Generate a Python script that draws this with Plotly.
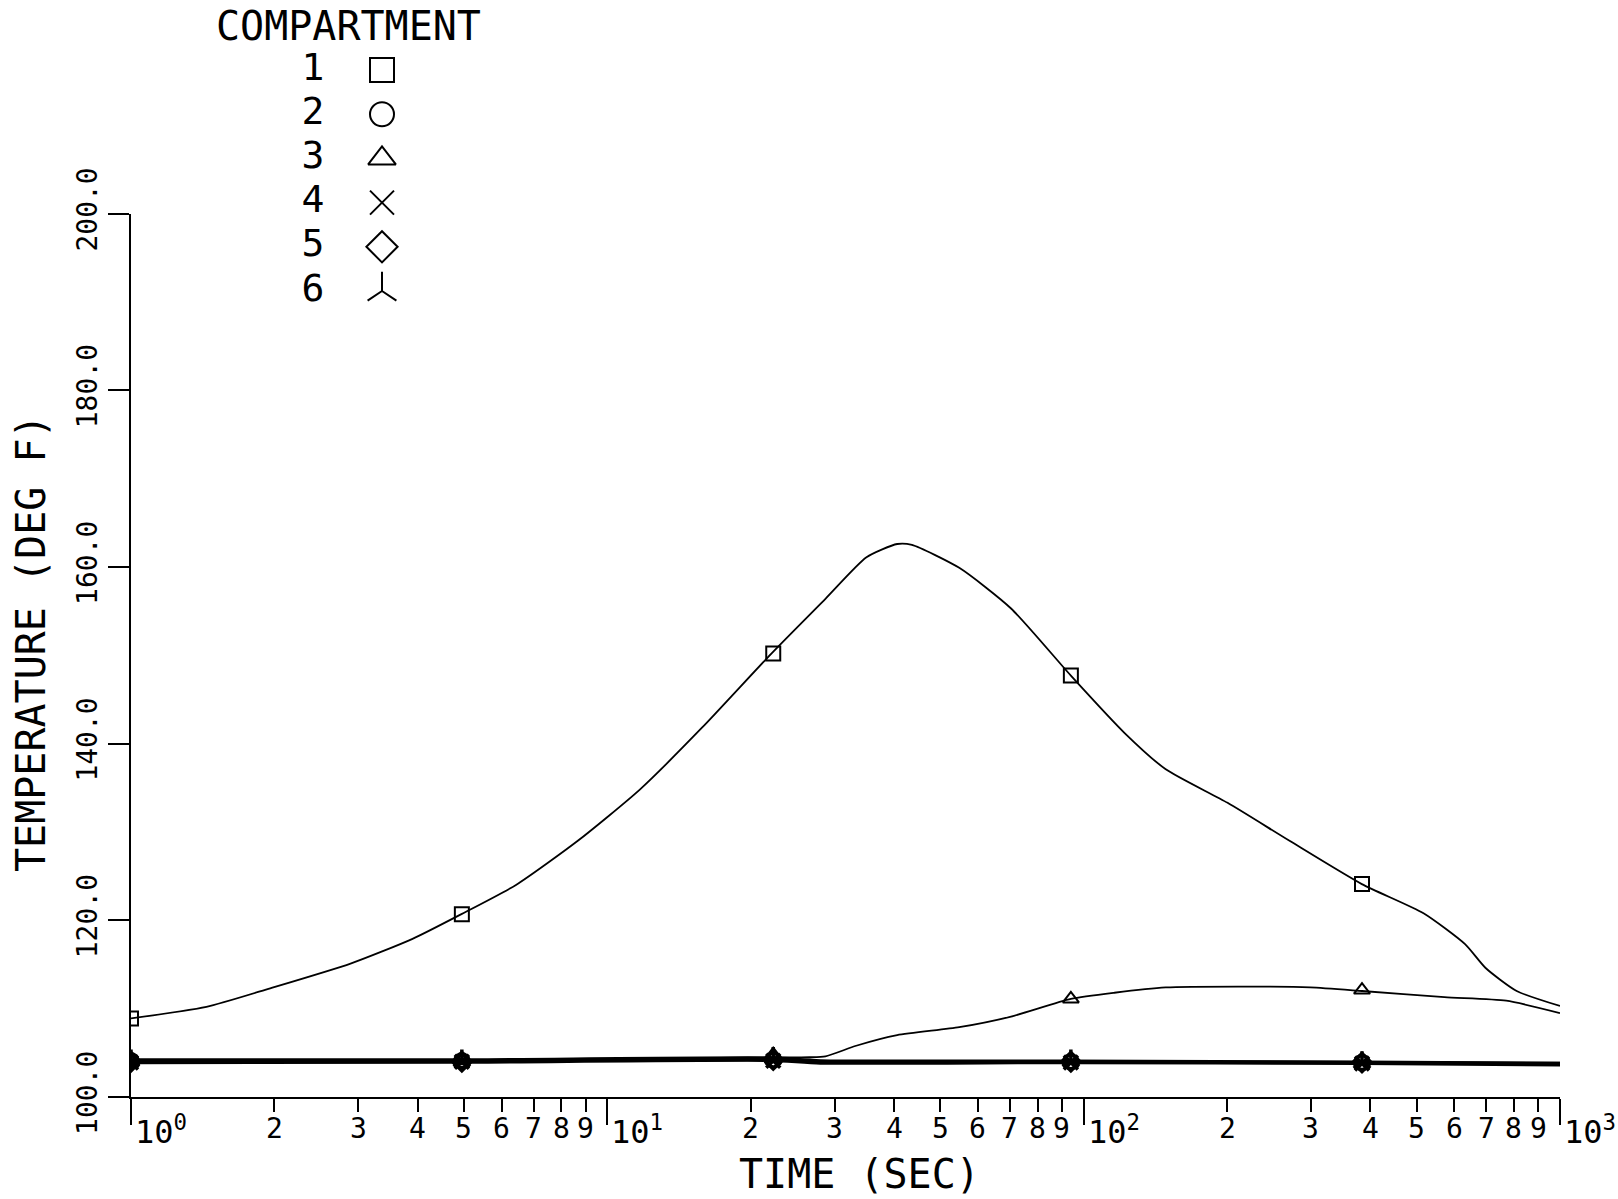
import math
import plotly.graph_objects as go

# ---------------- data ----------------
c1_time = [1.0, 1.44, 1.96, 2.89, 3.90, 4.94, 6.43, 8.67, 11.7, 15.8, 22.1, 28.7, 35.0, 40.6,
           43.6, 54.8, 70.4, 94.0, 121.9, 148.7, 200.5, 270.5, 383.7, 517.0, 632.0, 698.0, 811.0, 1000.0]
c1_temp = [108.9, 110.2, 112.3, 115.1, 117.9, 120.7, 124.0, 129.0, 134.8, 141.8, 150.2, 156.4, 161.1, 162.6,
           162.5, 159.9, 155.3, 147.7, 141.2, 137.1, 133.3, 129.0, 124.1, 120.8, 117.3, 114.6, 112.0, 110.3]

c3_time = [1.0, 4.94, 22.1, 26.6, 28.7, 33.3, 40.6, 54.8, 70.4, 94.0, 116.0, 148.7, 211.0, 299.0,
           384.0, 572.0, 771.0, 1000.0]
c3_temp = [104.0, 104.1, 104.5, 104.5, 104.6, 105.8, 107.0, 107.9, 109.1, 111.1, 111.8, 112.4, 112.5, 112.4,
           112.0, 111.3, 110.9, 109.5]

flat_time = [1.0, 5.0, 22.0, 28.0, 94.0, 384.0, 1000.0]
c2_temp = [104.15, 104.15, 104.35, 104.05, 104.05, 103.95, 103.85]
c4_temp = [103.85, 103.9, 104.1, 103.8, 103.85, 103.75, 103.6]
c5_temp = [104.0, 104.0, 104.2, 103.95, 103.95, 103.85, 103.7]
c6_temp = [104.25, 104.25, 104.45, 104.15, 104.1, 104.0, 103.85]

marker_time = [1.0, 4.95, 22.3, 94.0, 384.0]
c1_mark = [108.9, 120.7, 150.2, 147.7, 124.1]
c2_mark = [104.1, 104.1, 104.2, 104.0, 103.9]
c3_mark = [104.0, 104.1, 104.8, 111.1, 112.1]
c4_mark = [103.9, 104.0, 104.1, 103.9, 103.8]
c5_mark = [104.0, 104.0, 104.2, 104.0, 103.9]
c6_mark = [104.1, 104.1, 104.4, 104.1, 103.9]

compartments = ["1", "2", "3", "4", "5", "6"]
symbols = ["square-open", "circle-open", "triangle-up-open", "x-thin-open", "diamond-open", "y-up-open"]

y_ticks = [100, 120, 140, 160, 180, 200]
y_ticktext = ["100.0", "120.0", "140.0", "160.0", "180.0", "200.0"]
x_decades = [1, 10, 100, 1000]
x_decade_exp = ["0", "1", "2", "3"]
x_minor = [2, 3, 4, 5, 6, 7, 8, 9, 20, 30, 40, 50, 60, 70, 80, 90, 200, 300, 400, 500, 600, 700, 800, 900]
x_minor_text = ["2", "3", "4", "5", "6", "7", "8", "9"] * 3

# ---------------- layout constants ----------------
W, H = 1618, 1199
FONT = "DejaVu Sans Mono"
X_L, X_R = 131, 1560       # pixel position of 10^0 and 10^3
Y_B, Y_T = 1097, 213.6     # pixel position of 100 and 200
LEG_NUM_X, LEG_SYM_X, LEG_Y0, LEG_DY = 313, 382, 70, 44.2

fig = go.Figure()

curves = [
    (c1_time, c1_temp, c1_mark, 0),
    (flat_time, c2_temp, c2_mark, 1),
    (c3_time, c3_temp, c3_mark, 2),
    (flat_time, c4_temp, c4_mark, 3),
    (flat_time, c5_temp, c5_mark, 4),
    (flat_time, c6_temp, c6_mark, 5),
]
for t, temp, mk, i in curves:
    w = 1.8 if i in (0, 2) else 2.4
    fig.add_trace(go.Scatter(x=t, y=temp, mode="lines",
                             line=dict(color="black", width=w, shape="spline", smoothing=0.6),
                             showlegend=False, hoverinfo="skip"))
for t, temp, mk, i in curves:
    lw = 2 if i in (0, 2) else 3.5
    fig.add_trace(go.Scatter(x=marker_time, y=mk, mode="markers",
                             marker=dict(symbol=symbols[i], size=14, color="black",
                                         line=dict(color="black", width=lw)),
                             showlegend=False, hoverinfo="skip"))

# legend drawn on an overlay pixel-space axis
leg_y = [LEG_Y0 + k * LEG_DY for k in range(len(compartments))]
fig.add_trace(go.Scatter(x=[LEG_NUM_X] * len(compartments), y=leg_y, mode="text",
                         text=compartments, textfont=dict(family=FONT, size=38, color="black"),
                         xaxis="x2", yaxis="y2", showlegend=False, hoverinfo="skip"))
fig.add_trace(go.Scatter(x=[LEG_SYM_X] * len(compartments), y=leg_y, mode="markers",
                         marker=dict(symbol=symbols, size=24, color="black",
                                     line=dict(color="black", width=2)),
                         xaxis="x2", yaxis="y2", showlegend=False, hoverinfo="skip"))

annotations = []
# x tick labels
for v, txt in zip(x_minor, x_minor_text):
    annotations.append(dict(x=math.log10(v), y=1 - 1128 / H, xref="x", yref="paper",
                            text=txt, showarrow=False, xanchor="center", yanchor="middle",
                            font=dict(family=FONT, size=28, color="black")))
for v, e in zip(x_decades, x_decade_exp):
    annotations.append(dict(x=math.log10(v), y=1 - 1130 / H, xref="x", yref="paper",
                            text="10<sup>" + e + "</sup>", showarrow=False, xanchor="left",
                            yanchor="middle", xshift=2,
                            font=dict(family=FONT, size=32, color="black")))
# titles
annotations.append(dict(x=859 / W, y=1 - 1174 / H, xref="paper", yref="paper", text="TIME (SEC)",
                        showarrow=False, xanchor="center", yanchor="middle",
                        font=dict(family=FONT, size=40, color="black")))
annotations.append(dict(x=31 / W, y=1 - 643 / H, xref="paper", yref="paper",
                        text="TEMPERATURE (DEG F)", textangle=-90, showarrow=False,
                        xanchor="center", yanchor="middle",
                        font=dict(family=FONT, size=40, color="black")))
annotations.append(dict(x=348 / W, y=1 - 26 / H, xref="paper", yref="paper", text="COMPARTMENT",
                        showarrow=False, xanchor="center", yanchor="middle",
                        font=dict(family=FONT, size=40, color="black")))

fig.update_layout(
    width=W, height=H,
    margin=dict(l=0, r=0, t=0, b=0, pad=0, autoexpand=False),
    paper_bgcolor="white", plot_bgcolor="rgba(0,0,0,0)",
    showlegend=False,
    annotations=annotations,
    xaxis=dict(type="log", range=[0, 3], domain=[X_L / W, X_R / W], anchor="y", automargin=False,
               showgrid=False, zeroline=False, showline=True, linecolor="black", linewidth=2,
               tickvals=x_decades, showticklabels=False, ticks="outside", ticklen=26,
               tickwidth=2, tickcolor="black",
               minor=dict(tickvals=x_minor, ticks="outside", ticklen=13, tickwidth=2,
                          tickcolor="black", showgrid=False)),
    yaxis=dict(range=[100, 200], domain=[1 - Y_B / H, 1 - Y_T / H], anchor="x", automargin=False,
               showgrid=False, zeroline=False, showline=True, linecolor="black", linewidth=2,
               tickvals=y_ticks, ticktext=y_ticktext, ticks="outside", ticklen=21, tickwidth=2,
               tickcolor="black", tickangle=-90, ticklabelstandoff=0,
               tickfont=dict(family=FONT, size=28, color="black")),
    xaxis2=dict(range=[0, W], domain=[0, 1], anchor="y2", visible=False, automargin=False),
    yaxis2=dict(range=[H, 0], domain=[0, 1], anchor="x2", visible=False, automargin=False),
)

fig.write_html("out.html", config={"displayModeBar": False},
               post_script="document.body.style.margin='0px';document.body.style.overflow='hidden';")
